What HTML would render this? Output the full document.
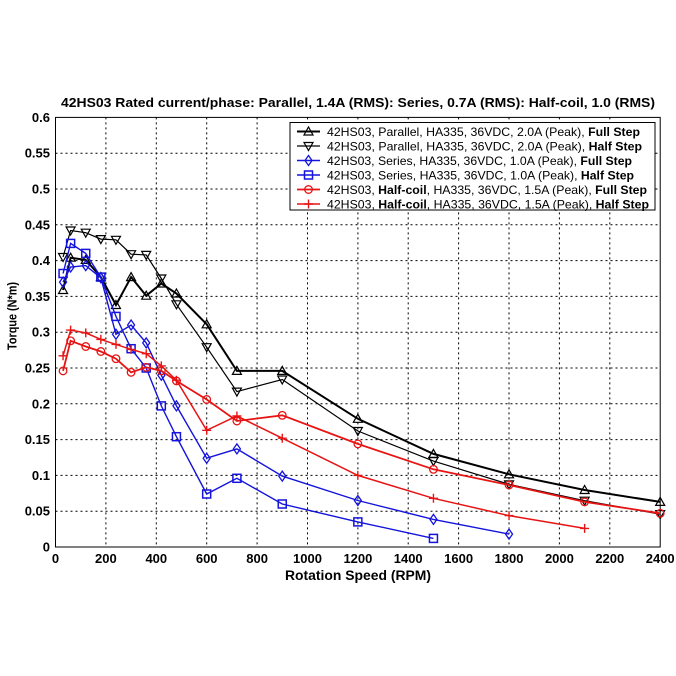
<!DOCTYPE html>
<html><head><meta charset="utf-8"><style>
html,body{margin:0;padding:0;background:#fff;}
svg{display:block;}
text{font-family:"Liberation Sans",Arial,sans-serif;}
</style></head><body>
<svg width="676" height="676" viewBox="0 0 676 676" xmlns="http://www.w3.org/2000/svg">
<defs>
<marker id="mu" markerWidth="14" markerHeight="14" refX="7" refY="7" markerUnits="userSpaceOnUse" overflow="visible"><path d="M7,2.5 L11.5,10.5 L2.5,10.5 Z" fill="none" stroke="#000" stroke-width="1.2"/></marker>
<marker id="md" markerWidth="14" markerHeight="14" refX="7" refY="7" markerUnits="userSpaceOnUse" overflow="visible"><path d="M7,11.5 L11.5,3.5 L2.5,3.5 Z" fill="none" stroke="#000" stroke-width="1.2"/></marker>
<marker id="mdi" markerWidth="14" markerHeight="14" refX="7" refY="7" markerUnits="userSpaceOnUse" overflow="visible"><path d="M7,2 L10.5,7 L7,12 L3.5,7 Z" fill="none" stroke="#1414dc" stroke-width="1.3"/></marker>
<marker id="msq" markerWidth="14" markerHeight="14" refX="7" refY="7" markerUnits="userSpaceOnUse" overflow="visible"><rect x="3" y="3" width="8" height="8" fill="none" stroke="#1414dc" stroke-width="1.5"/></marker>
<marker id="mci" markerWidth="14" markerHeight="14" refX="7" refY="7" markerUnits="userSpaceOnUse" overflow="visible"><circle cx="7" cy="7" r="3.8" fill="none" stroke="#e81414" stroke-width="1.3"/></marker>
<marker id="mpl" markerWidth="14" markerHeight="14" refX="7" refY="7" markerUnits="userSpaceOnUse" overflow="visible"><path d="M2.5,7 H11.5 M7,2.5 V11.5" fill="none" stroke="#e81414" stroke-width="1.4"/></marker>
</defs>

<!-- title -->
<text x="358" y="107" font-size="13" font-weight="bold" text-anchor="middle" textLength="594" lengthAdjust="spacingAndGlyphs">42HS03 Rated current/phase: Parallel, 1.4A (RMS): Series, 0.7A (RMS): Half-coil, 1.0 (RMS)</text>

<!-- grid -->
<g stroke="#000" stroke-width="1" stroke-dasharray="2,3">
<line x1="105.9" y1="117.4" x2="105.9" y2="547"/>
<line x1="156.3" y1="117.4" x2="156.3" y2="547"/>
<line x1="206.7" y1="117.4" x2="206.7" y2="547"/>
<line x1="257.1" y1="117.4" x2="257.1" y2="547"/>
<line x1="307.5" y1="117.4" x2="307.5" y2="547"/>
<line x1="357.9" y1="117.4" x2="357.9" y2="547"/>
<line x1="408.2" y1="117.4" x2="408.2" y2="547"/>
<line x1="458.6" y1="117.4" x2="458.6" y2="547"/>
<line x1="509.0" y1="117.4" x2="509.0" y2="547"/>
<line x1="559.4" y1="117.4" x2="559.4" y2="547"/>
<line x1="609.8" y1="117.4" x2="609.8" y2="547"/>
<line x1="55.5" y1="511.2" x2="660.2" y2="511.2"/>
<line x1="55.5" y1="475.4" x2="660.2" y2="475.4"/>
<line x1="55.5" y1="439.6" x2="660.2" y2="439.6"/>
<line x1="55.5" y1="403.8" x2="660.2" y2="403.8"/>
<line x1="55.5" y1="368.0" x2="660.2" y2="368.0"/>
<line x1="55.5" y1="332.2" x2="660.2" y2="332.2"/>
<line x1="55.5" y1="296.4" x2="660.2" y2="296.4"/>
<line x1="55.5" y1="260.6" x2="660.2" y2="260.6"/>
<line x1="55.5" y1="224.8" x2="660.2" y2="224.8"/>
<line x1="55.5" y1="189.0" x2="660.2" y2="189.0"/>
<line x1="55.5" y1="153.2" x2="660.2" y2="153.2"/>
</g>

<!-- axes box -->
<rect x="55.5" y="117.4" width="604.7" height="429.6" fill="none" stroke="#000" stroke-width="1"/>

<!-- tick labels y -->
<g font-size="13" font-weight="bold" text-anchor="end">
<text x="50" y="551.5">0</text>
<text x="50" y="515.7">0.05</text>
<text x="50" y="479.9">0.1</text>
<text x="50" y="444.1">0.15</text>
<text x="50" y="408.3">0.2</text>
<text x="50" y="372.5">0.25</text>
<text x="50" y="336.7">0.3</text>
<text x="50" y="300.9">0.35</text>
<text x="50" y="265.1">0.4</text>
<text x="50" y="229.3">0.45</text>
<text x="50" y="193.5">0.5</text>
<text x="50" y="157.7">0.55</text>
<text x="50" y="121.9">0.6</text>
</g>
<!-- tick labels x -->
<g font-size="13" font-weight="bold" text-anchor="middle">
<text x="55.5" y="563">0</text>
<text x="105.9" y="563">200</text>
<text x="156.3" y="563">400</text>
<text x="206.7" y="563">600</text>
<text x="257.1" y="563">800</text>
<text x="307.5" y="563">1000</text>
<text x="357.9" y="563">1200</text>
<text x="408.2" y="563">1400</text>
<text x="458.6" y="563">1600</text>
<text x="509.0" y="563">1800</text>
<text x="559.4" y="563">2000</text>
<text x="609.8" y="563">2200</text>
<text x="660.2" y="563">2400</text>
</g>

<!-- axis labels -->
<text x="358" y="580" font-size="13.5" font-weight="bold" text-anchor="middle" textLength="146" lengthAdjust="spacingAndGlyphs">Rotation Speed (RPM)</text>
<text transform="translate(16.5,316) rotate(-90)" x="0" y="0" font-size="12.5" font-weight="bold" text-anchor="middle" textLength="68" lengthAdjust="spacingAndGlyphs">Torque (N*m)</text>

<!-- series -->
<polyline fill="none" stroke="#000" stroke-width="2" marker-start="url(#mu)" marker-mid="url(#mu)" marker-end="url(#mu)"
points="63.06,290.0 70.62,257.7 85.74,259.9 100.85,277.1 115.97,305.0 131.09,277.1 146.21,295.7 161.32,283.5 176.44,293.5 206.68,324.3 236.91,370.9 282.26,370.9 357.85,418.8 433.44,453.9 509.03,474.3 584.62,490.0 660.2,501.9"/>
<polyline fill="none" stroke="#000" stroke-width="1.2" marker-start="url(#md)" marker-mid="url(#md)" marker-end="url(#md)"
points="63.06,257.0 70.62,230.5 85.74,232.7 100.85,239.1 115.97,239.8 131.09,254.2 146.21,254.9 161.32,278.5 176.44,304.3 206.68,347.2 236.91,391.6 282.26,379.5 357.85,431.0 433.44,461.1 509.03,484.3 584.62,500.7 660.2,514.1"/>
<polyline fill="none" stroke="#1414dc" stroke-width="1.4" marker-start="url(#mdi)" marker-mid="url(#mdi)" marker-end="url(#mdi)"
points="63.06,282.1 70.62,267.0 85.74,265.6 100.85,277.8 115.97,334.3 131.09,325.0 146.21,342.9 161.32,375.2 176.44,405.9 206.68,458.2 236.91,448.9 282.26,476.1 357.85,500.5 433.44,519.4 509.03,534.1"/>
<polyline fill="none" stroke="#1414dc" stroke-width="1.4" marker-start="url(#msq)" marker-mid="url(#msq)" marker-end="url(#msq)"
points="63.06,273.5 70.62,243.4 85.74,253.4 100.85,277.1 115.97,316.4 131.09,348.7 146.21,368.0 161.32,405.9 176.44,436.7 206.68,494.0 236.91,478.3 282.26,504.0 357.85,521.9 433.44,538.4"/>
<polyline fill="none" stroke="#e81414" stroke-width="1.8" marker-start="url(#mci)" marker-mid="url(#mci)" marker-end="url(#mci)"
points="63.06,370.9 70.62,340.8 85.74,346.5 100.85,351.5 115.97,358.7 131.09,372.3 146.21,367.3 161.32,370.9 176.44,380.9 206.68,399.5 236.91,421.0 282.26,415.3 357.85,443.9 433.44,469.3 509.03,485.0 584.62,501.9 660.2,513.3"/>
<polyline fill="none" stroke="#e81414" stroke-width="1.5" marker-start="url(#mpl)" marker-mid="url(#mpl)" marker-end="url(#mpl)"
points="63.06,355.8 70.62,330.1 85.74,332.9 100.85,339.4 115.97,344.4 131.09,349.4 146.21,353.7 161.32,365.9 176.44,380.2 206.68,430.3 236.91,416.0 282.26,438.2 357.85,475.4 433.44,498.3 509.03,515.6 584.62,528.4"/>

<!-- legend -->
<rect x="290" y="122.5" width="365" height="87.5" fill="#fff" stroke="#000" stroke-width="1"/>
<polyline points="297,131.5 308.5,131.5 320,131.5" fill="none" stroke="#000" stroke-width="2" marker-mid="url(#mu)"/>
<polyline points="297,146 308.5,146 320,146" fill="none" stroke="#000" stroke-width="1.2" marker-mid="url(#md)"/>
<polyline points="297,160.5 308.5,160.5 320,160.5" fill="none" stroke="#1414dc" stroke-width="1.4" marker-mid="url(#mdi)"/>
<polyline points="297,175 308.5,175 320,175" fill="none" stroke="#1414dc" stroke-width="1.4" marker-mid="url(#msq)"/>
<polyline points="297,189.5 308.5,189.5 320,189.5" fill="none" stroke="#e81414" stroke-width="1.8" marker-mid="url(#mci)"/>
<polyline points="297,204 308.5,204 320,204" fill="none" stroke="#e81414" stroke-width="1.5" marker-mid="url(#mpl)"/>
<g font-size="12" fill="#000">
<text x="327" y="135.8" textLength="313" lengthAdjust="spacingAndGlyphs">42HS03, Parallel, HA335, 36VDC, 2.0A (Peak), <tspan font-weight="bold">Full Step</tspan></text>
<text x="327" y="150.3" textLength="315" lengthAdjust="spacingAndGlyphs">42HS03, Parallel, HA335, 36VDC, 2.0A (Peak), <tspan font-weight="bold">Half Step</tspan></text>
<text x="327" y="164.8" textLength="305" lengthAdjust="spacingAndGlyphs">42HS03, Series, HA335, 36VDC, 1.0A (Peak), <tspan font-weight="bold">Full Step</tspan></text>
<text x="327" y="179.3" textLength="307" lengthAdjust="spacingAndGlyphs">42HS03, Series, HA335, 36VDC, 1.0A (Peak), <tspan font-weight="bold">Half Step</tspan></text>
<text x="327" y="193.8" textLength="320" lengthAdjust="spacingAndGlyphs">42HS03, <tspan font-weight="bold">Half-coil</tspan>, HA335, 36VDC, 1.5A (Peak), <tspan font-weight="bold">Full Step</tspan></text>
<text x="327" y="208.3" textLength="322" lengthAdjust="spacingAndGlyphs">42HS03, <tspan font-weight="bold">Half-coil</tspan>, HA335, 36VDC, 1.5A (Peak), <tspan font-weight="bold">Half Step</tspan></text>
</g>
</svg>
</body></html>
